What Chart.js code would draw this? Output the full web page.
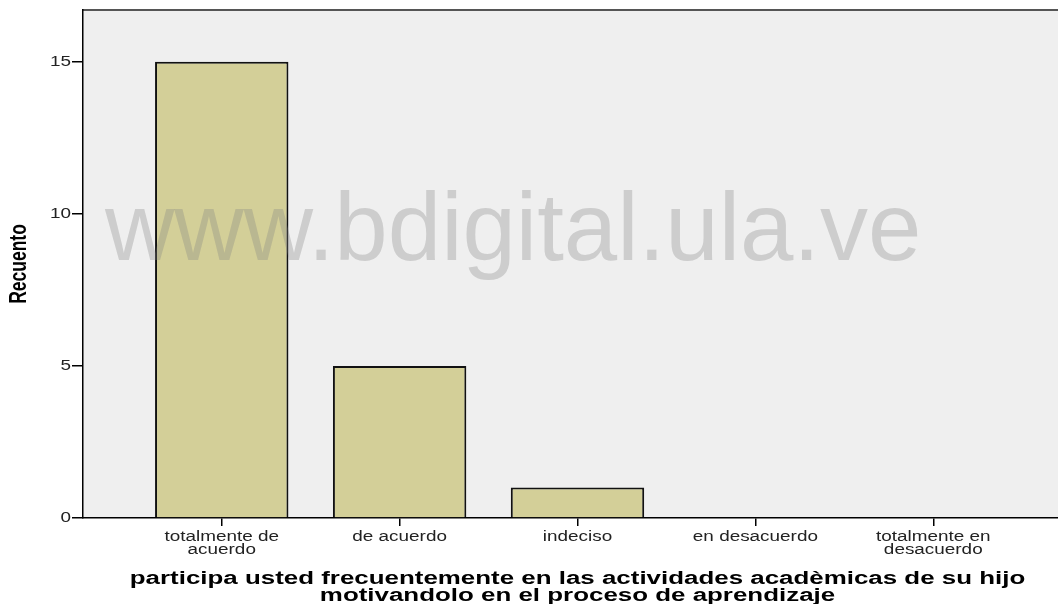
<!DOCTYPE html>
<html>
<head>
<meta charset="utf-8">
<script src="https://cdn.jsdelivr.net/npm/chart.js@4/dist/chart.umd.min.js"></script>
<style>
    html, body { margin: 0; padding: 0; background: #fff; overflow: hidden; }
    #wrap { width: 1080px; height: 604px; }
</style>
</head>
<body>
<div id="wrap"><canvas id="chart" width="1080" height="604"></canvas></div>
<script>
// data
const categories = ['totalmente de acuerdo', 'de acuerdo', 'indeciso', 'en desacuerdo', 'totalmente en desacuerdo'];
const tickLabels = [['totalmente de', 'acuerdo'], ['de acuerdo'], ['indeciso'], ['en desacuerdo'], ['totalmente en', 'desacuerdo']];
const counts = [15, 5, 1, 0, 0];
const yTicks = [0, 5, 10, 15];
const yTitle = 'Recuento';
const xTitle = ['participa usted frecuentemente en las actividades acadèmicas de su hijo', 'motivandolo en el proceso de aprendizaje'];
const watermark = 'www.bdigital.ula.ve';

const FONT = "'Liberation Sans', Arial, sans-serif";
const STRETCH = 1.35; // the original picture's text is wider than tall

// run fn with every fillText stretched around its own anchor
function withStretch(ctx, sx, sy, fn) {
    const orig = CanvasRenderingContext2D.prototype.fillText;
    ctx.fillText = function (t, x, y, mw) {
        this.save();
        this.translate(x, y);
        this.scale(sx, sy);
        if (mw === undefined) orig.call(this, t, 0, 0);
        else orig.call(this, t, 0, 0, mw);
        this.restore();
    };
    try { fn(); } finally { delete ctx.fillText; }
}

function stretchScale(scale, titleX, titleY) {
    if (scale._stretched) return;
    const labels = scale.drawLabels;
    const title = scale.drawTitle;
    scale.drawLabels = function (...a) { withStretch(this.ctx, STRETCH, 1, () => labels.apply(this, a)); };
    scale.drawTitle = function (...a) { withStretch(this.ctx, titleX, titleY, () => title.apply(this, a)); };
    scale._stretched = true;
}

// plot background, top frame line, watermark
const frame = {
    id: 'frame',
    beforeDraw(chart) {
        const a = chart.chartArea;
        const ctx = chart.ctx;
        ctx.save();
        ctx.fillStyle = '#efefef';
        ctx.fillRect(a.left, a.top, a.right - a.left, a.bottom - a.top);
        ctx.strokeStyle = '#555';
        ctx.lineWidth = 2;
        ctx.beginPath();
        ctx.moveTo(a.left, a.top);
        ctx.lineTo(a.right, a.top);
        ctx.stroke();
        ctx.restore();
    },
    afterDatasetsDraw(chart) {
        const ctx = chart.ctx;
        ctx.save();
        ctx.font = '96px ' + FONT;
        ctx.fillStyle = 'rgba(128,128,128,0.31)';
        ctx.textBaseline = 'alphabetic';
        ctx.fillText(watermark, 105, 260);
        ctx.restore();
    }
};

new Chart(document.getElementById('chart'), {
    type: 'bar',
    data: {
        datasets: [{
            label: yTitle,
            data: counts.map((c, i) => ({ x: i, y: c })),
            backgroundColor: '#d3cf98',
            borderColor: '#111',
            borderWidth: 2,
            borderSkipped: 'bottom',
            barPercentage: 0.75,
            categoryPercentage: 1
        }]
    },
    options: {
        responsive: false,
        animation: false,
        layout: { padding: { top: 10, right: 8, left: 0, bottom: 0 } },
        plugins: { legend: { display: false }, tooltip: { enabled: false } },
        scales: {
            x: {
                type: 'linear',
                offset: false,
                min: -0.78,
                max: categories.length - 0.22,
                afterBuildTicks: s => { s.ticks = categories.map((c, i) => ({ value: i })); },
                afterFit: s => { s.height = 86; stretchScale(s, STRETCH, 1); },
                border: { display: true, color: '#000', width: 1.5 },
                grid: { offset: false, drawOnChartArea: false, drawTicks: true, tickLength: 8, color: '#000', lineWidth: 1.5 },
                ticks: {
                    autoSkip: false,
                    maxRotation: 0,
                    padding: 5,
                    color: '#222',
                    font: { family: FONT, size: 14, lineHeight: 0.93 },
                    callback: v => tickLabels[v]
                },
                title: {
                    display: true,
                    text: xTitle,
                    color: '#000',
                    padding: { top: 8, bottom: -1 },
                    font: { family: FONT, size: 19.2, weight: 'bold', lineHeight: 0.92 }
                }
            },
            y: {
                min: 0,
                max: 16.7,
                afterBuildTicks: s => { s.ticks = yTicks.map(v => ({ value: v })); },
                afterFit: s => { s.width = 83; stretchScale(s, 1, STRETCH); },
                border: { display: true, color: '#000', width: 1.5 },
                grid: { drawOnChartArea: false, drawTicks: true, tickLength: 11, color: '#000', lineWidth: 1.5 },
                ticks: {
                    padding: 1,
                    color: '#222',
                    font: { family: FONT, size: 14 }
                },
                title: {
                    display: true,
                    text: yTitle,
                    color: '#000',
                    padding: { top: 9, bottom: 0 },
                    font: { family: FONT, size: 17.5, weight: 'bold' }
                }
            }
        }
    },
    plugins: [frame]
});
</script>
</body>
</html>
